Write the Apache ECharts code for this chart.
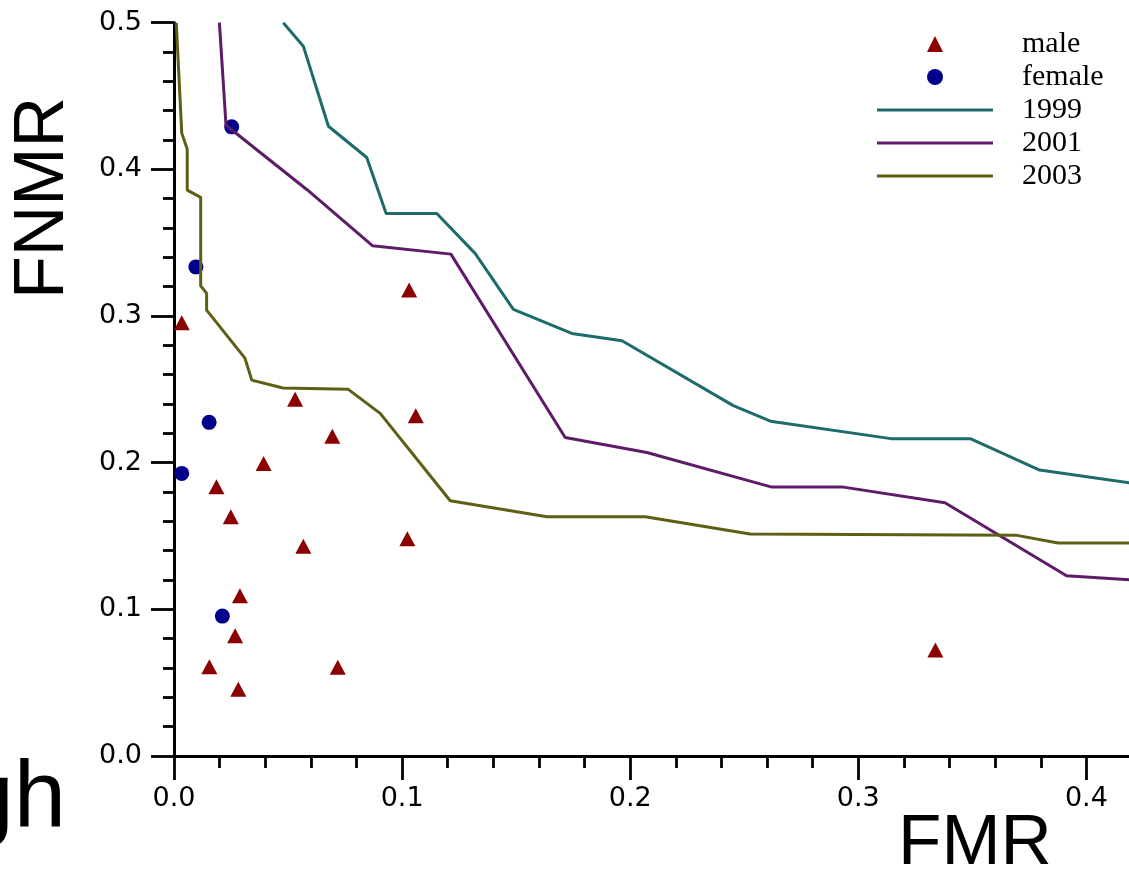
<!DOCTYPE html>
<html>
<head>
<meta charset="utf-8">
<script src="https://cdn.jsdelivr.net/npm/echarts@6/dist/echarts.min.js"></script>
<style>
  html, body { margin: 0; padding: 0; background: #ffffff; }
  #chart { width: 1129px; height: 869px; }
</style>
</head>
<body>
<div id="chart"></div>
<script>
// ---- data ----
const maleFMR  = [0.0034, 0.1031, 0.0531, 0.0694, 0.1060, 0.0393, 0.0186, 0.0249, 0.0567, 0.1023, 0.0289, 0.0268, 0.0155, 0.0718, 0.0282, 0.3338];
const maleFNMR = [0.2954, 0.3177, 0.2432, 0.2181, 0.2320, 0.1995, 0.1836, 0.1631, 0.1431, 0.1481, 0.1093, 0.0820, 0.0609, 0.0605, 0.0455, 0.0723];

const femaleFMR  = [0.0253, 0.0096, 0.0154, 0.0034, 0.0212];
const femaleFNMR = [0.4290, 0.3335, 0.2275, 0.1927, 0.0954];

const fmr1999  = [0.0479, 0.0567, 0.0677, 0.0845, 0.0930, 0.1152, 0.1320, 0.1488, 0.1744, 0.1964, 0.2452, 0.2615, 0.3143, 0.3491, 0.3795, 0.4200];
const fnmr1999 = [0.5000, 0.4840, 0.4294, 0.4081, 0.3699, 0.3699, 0.3427, 0.3045, 0.2881, 0.2831, 0.2389, 0.2283, 0.2164, 0.2164, 0.1950, 0.1860];

const fmr2001  = [0.0199, 0.0228, 0.0582, 0.0871, 0.1214, 0.1715, 0.2073, 0.2617, 0.2928, 0.3380, 0.3913, 0.4200];
const fnmr2001 = [0.5000, 0.4301, 0.3863, 0.3479, 0.3422, 0.2172, 0.2069, 0.1835, 0.1835, 0.1727, 0.1229, 0.1200];

const fmr2003  = [0.0010, 0.0034, 0.0058, 0.0058, 0.0117, 0.0117, 0.0143, 0.0143, 0.0311, 0.0341, 0.0478, 0.0764, 0.0904, 0.1211, 0.1635, 0.2066, 0.2526, 0.3690, 0.3876, 0.4200];
const fnmr2003 = [0.5000, 0.4247, 0.4138, 0.3858, 0.3809, 0.3206, 0.3154, 0.3040, 0.2713, 0.2563, 0.2509, 0.2500, 0.2336, 0.1740, 0.1631, 0.1631, 0.1513, 0.1506, 0.1452, 0.1452];

const seriesNames = ['male', 'female', '1999', '2001', '2003'];
const xTickLabels = ['0.0', '0.1', '0.2', '0.3', '0.4'];
const yTickLabels = ['0.0', '0.1', '0.2', '0.3', '0.4', '0.5'];
const xAxisTitle = 'FMR';
const yAxisTitle = 'FNMR';
const cutText = 'High';

function pairs(xs, ys) { return xs.map((x, i) => [x, ys[i]]); }
function tickLabel(list, v) {
  const k = Math.round(v * 10);
  if (Math.abs(v * 10 - k) > 1e-6) return '';
  return list[k] !== undefined ? list[k] : '';
}

const chart = echarts.init(document.getElementById('chart'), null, { renderer: 'canvas' });

const axisCommon = {
  type: 'value',
  interval: 0.1,
  splitLine: { show: false },
  minorSplitLine: { show: false },
  axisLine: { show: true, onZero: false, lineStyle: { color: '#000', width: 3 } },
  axisTick: { show: true, inside: false, lineStyle: { color: '#000', width: 2.8 } },
  minorTick: { show: true, splitNumber: 5, lineStyle: { color: '#000', width: 2.8 } }
};

const lineColors = ['#1e6b6b', '#5e1c68', '#5e5e14'];
const lineIcon = 'path://M0,0H116V3H0Z';

const option = {
  backgroundColor: '#ffffff',
  animation: false,
  grid: {
    left: 174, top: 22.7, width: 958, height: 733.3,
    containLabel: false, outerBoundsMode: 'none'
  },
  xAxis: Object.assign({}, axisCommon, {
    min: 0, max: 0.42,
    axisTick: Object.assign({}, axisCommon.axisTick, { length: 24 }),
    minorTick: Object.assign({}, axisCommon.minorTick, { length: 12 }),
    axisLabel: {
      margin: 29, color: '#000', fontFamily: 'DejaVu Sans', fontSize: 27,
      showMaxLabel: false, hideOverlap: false,
      formatter: v => tickLabel(xTickLabels, v)
    }
  }),
  yAxis: Object.assign({}, axisCommon, {
    min: 0, max: 0.5,
    axisTick: Object.assign({}, axisCommon.axisTick, { length: 23 }),
    minorTick: Object.assign({}, axisCommon.minorTick, { length: 11 }),
    axisLabel: {
      margin: 32, color: '#000', fontFamily: 'DejaVu Sans', fontSize: 27,
      hideOverlap: false,
      formatter: v => tickLabel(yTickLabels, v)
    }
  }),
  legend: {
    orient: 'vertical',
    left: 877, top: 29,
    padding: 0,
    itemWidth: 116, itemHeight: 16,
    itemGap: 3,
    selectedMode: false,
    symbolKeepAspect: true,
    data: [
      { name: seriesNames[0], icon: 'path://M0,-1L1,1L-1,1Z' },
      { name: seriesNames[1], icon: 'circle' },
      { name: seriesNames[2], icon: lineIcon, itemStyle: { color: lineColors[0] } },
      { name: seriesNames[3], icon: lineIcon, itemStyle: { color: lineColors[1] } },
      { name: seriesNames[4], icon: lineIcon, itemStyle: { color: lineColors[2] } }
    ],
    textStyle: {
      fontFamily: 'Liberation Serif', fontSize: 30, color: '#000',
      lineHeight: 30, padding: [0, 0, 0, 24]
    }
  },
  graphic: [
    {
      type: 'text', x: 44, y: 198, rotation: Math.PI / 2,
      style: { text: yAxisTitle, fontFamily: 'Liberation Sans', fontSize: 70, fill: '#000', align: 'center', verticalAlign: 'middle' }
    },
    {
      type: 'text', x: 975, y: 844,
      style: { text: xAxisTitle, fontFamily: 'Liberation Sans', fontSize: 71, fill: '#000', align: 'center', verticalAlign: 'middle' }
    },
    {
      type: 'text', x: 66, y: 801,
      style: { text: cutText, fontFamily: 'Liberation Sans', fontSize: 94, fill: '#000', align: 'right', verticalAlign: 'middle' }
    }
  ],
  series: [
    {
      name: seriesNames[0], type: 'scatter', z: 2,
      symbol: 'triangle', symbolSize: [16, 15],
      itemStyle: { color: '#8b0000', opacity: 1 },
      data: pairs(maleFMR, maleFNMR)
    },
    {
      name: seriesNames[1], type: 'scatter', z: 2,
      symbol: 'circle', symbolSize: 15,
      itemStyle: { color: '#00008b', opacity: 1 },
      data: pairs(femaleFMR, femaleFNMR)
    },
    {
      name: seriesNames[2], type: 'line', z: 3, symbol: 'none', showSymbol: false,
      lineStyle: { color: lineColors[0], width: 3 }, itemStyle: { color: lineColors[0] },
      data: pairs(fmr1999, fnmr1999)
    },
    {
      name: seriesNames[3], type: 'line', z: 3, symbol: 'none', showSymbol: false,
      lineStyle: { color: lineColors[1], width: 3 }, itemStyle: { color: lineColors[1] },
      data: pairs(fmr2001, fnmr2001)
    },
    {
      name: seriesNames[4], type: 'line', z: 3, symbol: 'none', showSymbol: false,
      lineStyle: { color: lineColors[2], width: 3 }, itemStyle: { color: lineColors[2] },
      data: pairs(fmr2003, fnmr2003)
    }
  ]
};

chart.setOption(option);
</script>
</body>
</html>
